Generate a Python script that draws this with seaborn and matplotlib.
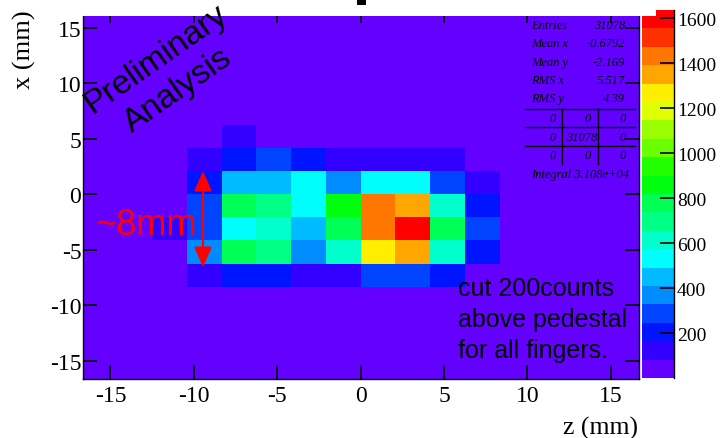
import colorsys
import numpy as np
import pandas as pd
import matplotlib
matplotlib.use("Agg")
import matplotlib.pyplot as plt
from matplotlib.colors import ListedColormap
from matplotlib.patches import Rectangle
from matplotlib.lines import Line2D
import seaborn as sns

# ---------------- data ----------------
z_range = (-16.667, 16.667)          # horizontal axis, z (mm)
x_range = (-16.667, 16.667)          # vertical axis, x (mm)
n_bins = 16
background_count = 20
core_z_centers = [-11.458, -9.375, -7.292, -5.208, -3.125, -1.042, 1.042, 3.125, 5.208, 7.292]
core_x_centers = [5.208, 3.125, 1.042, -1.042, -3.125, -5.208, -7.292]
core_counts = [
    [20, 20, 123, 20, 20, 20, 20, 20, 20, 20],
    [20, 123, 205, 286, 205, 123, 123, 123, 123, 20],
    [20, 205, 450, 450, 532, 368, 532, 532, 286, 123],
    [20, 286, 777, 695, 532, 859, 1432, 1350, 614, 205],
    [123, 286, 532, 614, 450, 777, 1432, 1636, 777, 286],
    [20, 368, 777, 695, 368, 614, 1268, 1350, 614, 205],
    [20, 123, 205, 205, 123, 123, 286, 286, 205, 20],
]
tick_values = [-15, -10, -5, 0, 5, 10, 15]
cbar_ticks = [200, 400, 600, 800, 1000, 1200, 1400, 1600]
stats_labels = ["Entries", "Mean x", "Mean y", "RMS x", "RMS y"]
stats_values = ["31078", "-0.6792", "-2.169", "5.517", "4.39"]
overflow_table = [["0", "0", "0"], ["0", "31078", "0"], ["0", "0", "0"]]
integral_text = "Integral 3.108e+04"
n_levels = 20

# ---------------- build histogram table ----------------
edges = np.linspace(z_range[0], z_range[1], n_bins + 1)
centers = (edges[:-1] + edges[1:]) / 2
z_centers = np.round(centers, 3)
x_centers = np.round(centers[::-1], 3)
grid = pd.DataFrame(float(background_count), index=x_centers, columns=z_centers)
for r, xc in enumerate(core_x_centers):
    ri = int(np.argmin(np.abs(x_centers - xc)))
    for c, zc in enumerate(core_z_centers):
        ci = int(np.argmin(np.abs(z_centers - zc)))
        grid.iloc[ri, ci] = core_counts[r][c]


def root_color(k):
    idx = int((k + 0.99) * 50 / n_levels)
    hue = max(280 - (idx + 1) * 5.6, 0)
    return colorsys.hls_to_rgb(hue / 360, 0.5, 1.0)


cmap = ListedColormap([root_color(k) for k in range(n_levels)])
vmax = float(grid.values.max())

plt.rcParams['font.family'] = ['Liberation Serif', 'DejaVu Serif']

W, H = 721, 439


def fx(x):
    return x / W


def fy(y):
    return 1 - y / H


fig = plt.figure(figsize=(W / 100, H / 100), dpi=100)
ax = fig.add_axes([fx(82.7), fy(380), (638.5 - 82.7) / W, (380 - 10.4) / H])
cax = fig.add_axes([fx(642), fy(379), 32 / W, (379 - 11) / H])

sns.heatmap(grid, ax=ax, cbar_ax=cax, cmap=cmap, vmin=0, vmax=vmax,
            xticklabels=False, yticklabels=False, linewidths=0)

bw = (z_range[1] - z_range[0]) / n_bins
ax.set_xticks([(v - z_range[0]) / bw for v in tick_values])
ax.set_xticklabels([str(v) for v in tick_values], rotation=0)
ax.set_yticks([(x_range[1] - v) / bw for v in tick_values])
ax.set_yticklabels([str(v) for v in tick_values], rotation=0)
ax.set_xlabel("")
ax.set_ylabel("")
ax.tick_params(axis='both', direction='in', length=10, width=1.2, color='black',
               top=True, right=True, labelsize=17)
ax.tick_params(axis='x', pad=4)
ax.tick_params(axis='y', pad=1)
for s in ax.spines.values():
    s.set_visible(True)
    s.set_linewidth(1.0)
    s.set_color('black')

cbar = ax.collections[0].colorbar
cbar.set_ticks(cbar_ticks)
cbar.set_ticklabels([str(t) for t in cbar_ticks])
cbar.outline.set_visible(False)
cax.minorticks_off()
cax.tick_params(direction='in', length=10, width=1.2, color='black', labelsize=14, pad=2)
cax.plot([1, 1], [0, 1], transform=cax.transAxes, color='black', lw=1, clip_on=False)

# axis titles
fig.text(fx(24), fy(10), "x (mm)", rotation=90, ha='center', va='top', fontsize=19)
fig.text(fx(638), fy(428), "z (mm)", ha='right', va='center', fontsize=18.5)

# stats box
st_fs = 9
st_y = [25.7, 44.3, 62.7, 81, 99.3]
for lab, val, y in zip(stats_labels, stats_values, st_y):
    fig.text(fx(531), fy(y), lab, ha='left', va='center', style='italic', fontsize=st_fs, zorder=12)
    fig.text(fx(625), fy(y), val, ha='right', va='center', style='italic', fontsize=st_fs, zorder=12)
for yl in [110, 128, 147]:
    fig.add_artist(Line2D([fx(525), fx(635)], [fy(yl), fy(yl)], transform=fig.transFigure,
                          color='black', lw=1))
for xl in [562, 598]:
    fig.add_artist(Line2D([fx(xl), fx(xl)], [fy(110), fy(165)], transform=fig.transFigure,
                          color='black', lw=1))
cell_right = [[556, 591, 626], [556, 597, 626], [556, 591, 626]]
for row, ys, rights in zip(overflow_table, [119.3, 137.7, 156], cell_right):
    for txt, xr in zip(row, rights):
        fig.text(fx(xr), fy(ys), txt, ha='right', va='center', style='italic', fontsize=st_fs)
fig.text(fx(531), fy(175), integral_text, ha='left', va='center', style='italic', fontsize=st_fs)

# white title box covering the top of the frame, with a fragment of the title glyph
fig.add_artist(Rectangle((fx(80), fy(17.3)), (656 - 80) / W, 17.3 / H,
                         transform=fig.transFigure, facecolor='white', edgecolor='none', zorder=10))
fig.add_artist(Rectangle((fx(357), fy(6)), 9 / W, 6 / H,
                         transform=fig.transFigure, facecolor='black', edgecolor='none', zorder=11))

# slide annotations (drawn above everything)
fig.text(fx(167), fy(75), "Preliminary\nAnalysis", rotation=35, rotation_mode='anchor',
         ha='center', va='center', multialignment='center', linespacing=1.3,
         fontsize=24, family='Liberation Sans', color='black', zorder=12)
fig.text(fx(95), fy(235), "~8mm", ha='left', va='baseline', fontsize=26,
         family='Liberation Sans', color='#ff0000', zorder=12)
for line, yb in zip(["cut 200counts", "above pedestal", "for all fingers."], [296.5, 327.5, 358.5]):
    fig.text(fx(458), fy(yb), line, ha='left', va='baseline', fontsize=18,
             family='Liberation Sans', color='black', zorder=12)
ax.annotate("", xy=(203, H - 172), xytext=(203, H - 268),
            xycoords='figure pixels', textcoords='figure pixels',
            arrowprops=dict(arrowstyle='<|-|>,head_length=1.22,head_width=0.54',
                            mutation_scale=10, color='#ff0000', lw=1.5,
                            shrinkA=0, shrinkB=0))

fig.savefig("out.png", dpi=100)
